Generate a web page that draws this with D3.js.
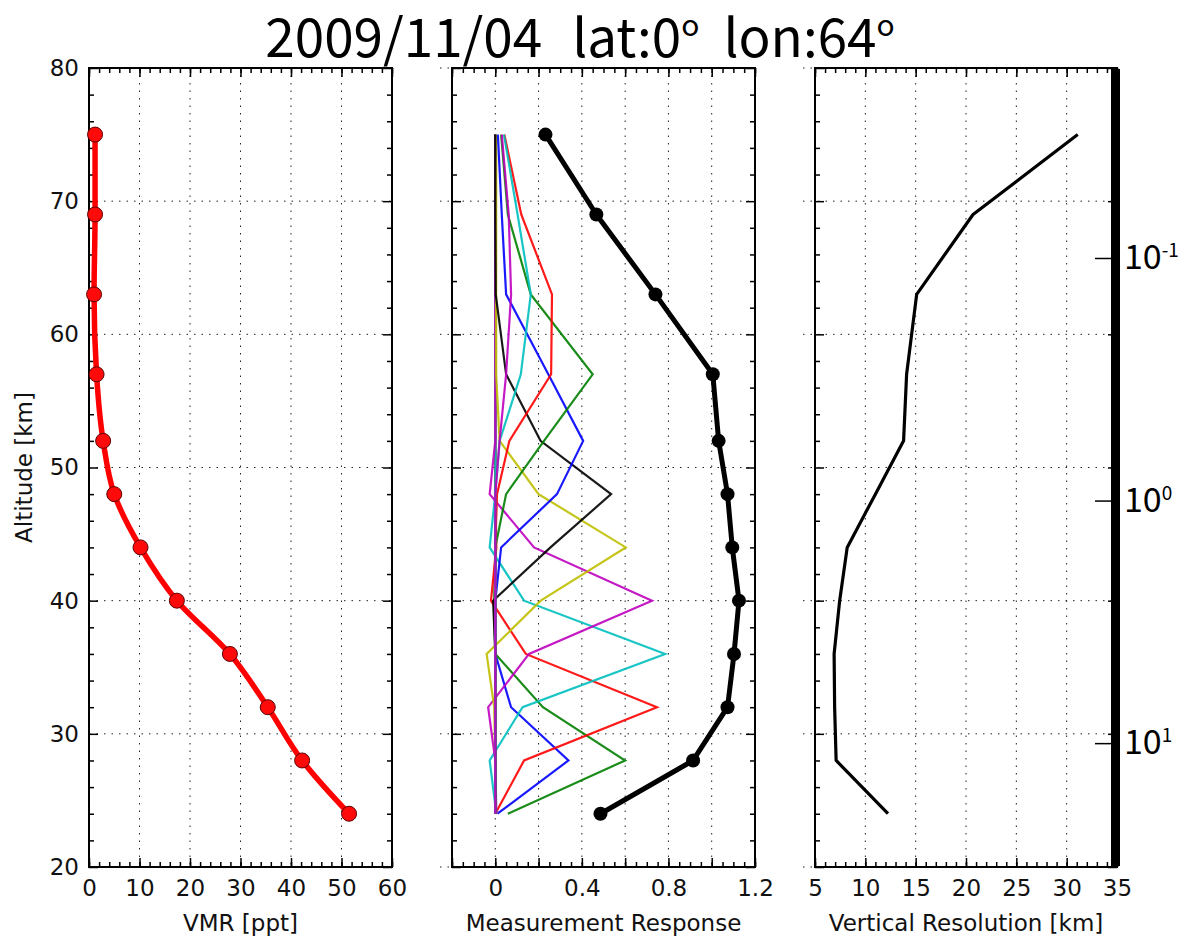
<!DOCTYPE html>
<html>
<head>
<meta charset="utf-8">
<script src="https://cdn.jsdelivr.net/npm/d3@7"></script>
<style>
  body { margin: 0; background: #fff; }
  svg { display: block; }
  .tick text { font-family: "DejaVu Sans", sans-serif; font-size: 23px; fill: #111; }
  .tick line { stroke: #000; stroke-width: 1.5; }
  .grid { stroke: #222; stroke-width: 1; stroke-dasharray: 1.5 6; }
  .axis-title { font-family: "DejaVu Sans", sans-serif; font-size: 23px; fill: #111; }
  .frame { fill: none; stroke: #000; stroke-width: 2; }
  .big { font-family: "Noto Sans CJK JP", "Noto Sans", sans-serif; fill: #000; }
</style>
</head>
<body>
<svg id="chart" width="1191" height="942"></svg>
<script>
// Retrieval levels (km)
const altitudes = [24, 28, 32, 36, 40, 44, 48, 52, 57, 63, 69, 75];
const altitudeRange = [20, 80];
const altitudeMajor = [20, 30, 40, 50, 60, 70, 80];

// Retrieved volume mixing ratio (ppt)
const vmr = [51.5, 42.2, 35.4, 27.9, 17.4, 10.2, 5.0, 2.8, 1.5, 1.0, 1.2, 1.2];
const vmrRange = [0, 60];
const vmrTicks = [0, 10, 20, 30, 40, 50, 60];

// Measurement response (row sums of the averaging kernel)
const measurementResponse = [0.486, 0.914, 1.073, 1.103, 1.126, 1.095, 1.073, 1.032, 1.005, 0.74, 0.467, 0.232];

// Averaging kernel rows, one per retrieval level, sampled at the altitudes above
const kernel24 = [0.01, 0.338, 0.073, 0.0, 0.0, 0.002, 0.0, 0.0, 0.0, 0.0, 0.0, 0.0];
const kernel28 = [0.058, 0.60, 0.22, 0.0, -0.005, 0.0, 0.0, 0.0, 0.0, 0.0, 0.0, 0.0];
const kernel32 = [0.0, 0.133, 0.747, 0.141, -0.02, 0.005, 0.0, 0.0, 0.0, 0.0, 0.0, 0.0];
const kernel36 = [0.005, -0.026, 0.126, 0.785, 0.133, -0.026, 0.0, 0.0, 0.0, 0.0, 0.0, 0.0];
const kernel40 = [0.005, 0.0, -0.033, 0.156, 0.724, 0.179, -0.026, 0.0, 0.0, 0.0, 0.0, 0.0];
const kernel44 = [0.0, 0.0, -0.005, -0.04, 0.21, 0.603, 0.2, 0.02, 0.004, 0.004, 0.004, 0.004];
const kernel48 = [0.0, 0.0, 0.0, 0.0, -0.01, 0.255, 0.535, 0.209, 0.05, 0.002, 0.0, 0.0];
const kernel52 = [0.0, 0.0, 0.0, 0.0, 0.0, 0.027, 0.285, 0.406, 0.245, 0.05, 0.03, 0.012];
const kernel57 = [0.0, 0.0, 0.0, 0.0, 0.0, 0.0, 0.05, 0.225, 0.45, 0.164, 0.058, 0.027];
const kernel63 = [0.0, 0.0, 0.0, 0.0, 0.0, 0.0, 0.008, 0.065, 0.258, 0.262, 0.12, 0.042];
const kernel69 = [0.0, 0.0, 0.0, 0.0, 0.0, 0.0, 0.0, 0.02, 0.118, 0.164, 0.103, 0.04];
const kernel75 = [0.0, 0.0, 0.0, 0.0, 0.0, 0.0, 0.0, 0.02, 0.05, 0.073, 0.062, 0.03];
const kernels = [kernel24, kernel28, kernel32, kernel36, kernel40, kernel44,
                 kernel48, kernel52, kernel57, kernel63, kernel69, kernel75];
const responseRange = [-0.2, 1.2];
const responseTicks = [-0.2, 0, 0.2, 0.4, 0.6, 0.8, 1.0, 1.2];
const responseTickLabels = ["", "0", "", "0.4", "", "0.8", "", "1.2"];

// Vertical resolution (km)
const verticalResolution = [12.25, 7.1, 6.95, 6.9, 7.45, 8.2, 11.0, 13.8, 14.1, 15.1, 20.7, 31.1];
const resolutionRange = [5, 35];
const resolutionTicks = [5, 10, 15, 20, 25, 30, 35];

// Logarithmic side scale
const sideScaleRange = [0.01663, 32.1];
const sideScaleTicks = [0.1, 1, 10];
const sideScaleExponents = ["-1", "0", "1"];

// Title pieces; odd entries are raised degree marks
const titleParts = ["2009/11/04", "lat:0", "o", "lon:64", "o"];

// classic matplotlib colour cycle
const cycle = ["#0000ff", "#008000", "#ff0000", "#00bfbf", "#bf00bf", "#bfbf00", "#000000"];

const svg = d3.select("#chart");
const plotTop = 68, plotBottom = 867;
const y = d3.scaleLinear().domain(altitudeRange).range([plotBottom, plotTop]);
const altMinor = d3.range(altitudeRange[0], altitudeRange[1] + 1, 2).filter(v => v % 10 !== 0);

function step(domain, s) {
  const n = Math.round((domain[1] - domain[0]) / s);
  return d3.range(n + 1).map(i => +(domain[0] + i * s).toFixed(6));
}

function buildPanel(cfg) {
  const g = svg.append("g");
  const x = d3.scaleLinear().domain(cfg.domain).range([cfg.left, cfg.right]);

  // dotted grid
  g.append("g").selectAll("line").data(cfg.gridX).join("line")
    .attr("class", "grid")
    .attr("x1", d => x(d)).attr("x2", d => x(d))
    .attr("y1", plotTop).attr("y2", plotBottom);
  g.append("g").selectAll("line").data(altitudeMajor).join("line")
    .attr("class", "grid")
    .attr("x1", cfg.left - cfg.overhang).attr("x2", cfg.right)
    .attr("y1", d => y(d)).attr("y2", d => y(d));

  // ticks on all four sides, pointing inwards
  const bottomAxis = d3.axisBottom(x).tickValues(cfg.major).tickSize(-9).tickPadding(13)
    .tickFormat((d, i) => cfg.labels[i]);
  g.append("g").attr("transform", `translate(0,${plotBottom})`).call(bottomAxis);
  g.append("g").attr("transform", `translate(0,${plotBottom})`)
    .call(d3.axisBottom(x).tickValues(cfg.minor).tickSize(-5).tickFormat(""));
  g.append("g").attr("transform", `translate(0,${plotTop})`)
    .call(d3.axisTop(x).tickValues(cfg.major).tickSize(-9).tickFormat(""));
  g.append("g").attr("transform", `translate(0,${plotTop})`)
    .call(d3.axisTop(x).tickValues(cfg.minor).tickSize(-5).tickFormat(""));

  const leftAxis = d3.axisLeft(y).tickValues(altitudeMajor).tickSize(-9).tickPadding(10)
    .tickFormat(cfg.yLabels ? d3.format("d") : "");
  g.append("g").attr("transform", `translate(${cfg.left},0)`).call(leftAxis);
  g.append("g").attr("transform", `translate(${cfg.left},0)`)
    .call(d3.axisLeft(y).tickValues(altMinor).tickSize(-5).tickFormat(""));
  g.append("g").attr("transform", `translate(${cfg.right},0)`)
    .call(d3.axisRight(y).tickValues(altitudeMajor).tickSize(-9).tickFormat(""));
  g.append("g").attr("transform", `translate(${cfg.right},0)`)
    .call(d3.axisRight(y).tickValues(altMinor).tickSize(-5).tickFormat(""));
  g.selectAll(".domain").remove();

  g.append("rect").attr("class", "frame")
    .attr("x", cfg.left).attr("y", plotTop)
    .attr("width", cfg.right - cfg.left).attr("height", plotBottom - plotTop);

  g.append("text").attr("class", "axis-title")
    .attr("x", (cfg.left + cfg.right) / 2).attr("y", 931)
    .attr("text-anchor", "middle").text(cfg.title);

  const plot = g.append("g");
  return { x, plot };
}

// ---- VMR profile ----
const p1 = buildPanel({
  left: 89, right: 392, domain: vmrRange,
  major: vmrTicks, labels: vmrTicks.map(String), minor: step(vmrRange, 2),
  gridX: vmrTicks.slice(1, -1), overhang: 0, yLabels: true, title: "VMR [ppt]"
});
p1.plot.append("path")
  .datum(altitudes.map((a, i) => [vmr[i], a]))
  .attr("fill", "none").attr("stroke", "#ff0000").attr("stroke-width", 5.5)
  .attr("stroke-linejoin", "round")
  .attr("d", d3.line().x(d => p1.x(d[0])).y(d => y(d[1])).curve(d3.curveMonotoneY));
p1.plot.selectAll("circle").data(altitudes).join("circle")
  .attr("cx", (a, i) => p1.x(vmr[i])).attr("cy", a => y(a)).attr("r", 7.5)
  .attr("fill", "#ff0a0a").attr("stroke", "#5a0000").attr("stroke-width", 1);

svg.append("text").attr("class", "axis-title")
  .attr("transform", `translate(32,${(plotTop + plotBottom) / 2}) rotate(-90)`)
  .attr("text-anchor", "middle").text("Altitude [km]");

// ---- Averaging kernels & measurement response ----
const p2 = buildPanel({
  left: 452, right: 755, domain: responseRange,
  major: responseTicks, labels: responseTickLabels, minor: step(responseRange, 0.05),
  gridX: responseTicks.slice(1, -1), overhang: 12, yLabels: false, title: "Measurement Response"
});
const kLine = d3.line().x(d => p2.x(d[0])).y(d => y(d[1]));
kernels.forEach((row, k) => {
  p2.plot.append("path")
    .datum(altitudes.map((a, i) => [row[i], a]))
    .attr("fill", "none").attr("stroke", cycle[k % cycle.length])
    .attr("stroke-width", 2.2).attr("stroke-opacity", 0.9)
    .attr("d", kLine);
});
p2.plot.append("path")
  .datum(altitudes.map((a, i) => [measurementResponse[i], a]))
  .attr("fill", "none").attr("stroke", "#000").attr("stroke-width", 5)
  .attr("stroke-linejoin", "round").attr("d", kLine);
p2.plot.selectAll("circle").data(altitudes).join("circle")
  .attr("cx", (a, i) => p2.x(measurementResponse[i])).attr("cy", a => y(a))
  .attr("r", 7).attr("fill", "#000");

// ---- Vertical resolution ----
const p3 = buildPanel({
  left: 815, right: 1117, domain: resolutionRange,
  major: resolutionTicks, labels: resolutionTicks.map(String), minor: step(resolutionRange, 1),
  gridX: resolutionTicks.slice(1, -1), overhang: 12, yLabels: false, title: "Vertical Resolution [km]"
});
p3.plot.append("path")
  .datum(altitudes.map((a, i) => [verticalResolution[i], a]))
  .attr("fill", "none").attr("stroke", "#000").attr("stroke-width", 3.2)
  .attr("stroke-linejoin", "round")
  .attr("d", d3.line().x(d => p3.x(d[0])).y(d => y(d[1])));

// ---- logarithmic side scale ----
const sideY = d3.scaleLog().domain(sideScaleRange).range([69, 866]);
const side = svg.append("g");
side.append("rect").attr("x", 1111).attr("y", sideY.range()[0])
  .attr("width", 9).attr("height", sideY.range()[1] - sideY.range()[0]).attr("fill", "#000");
side.append("g").attr("transform", "translate(1112,0)")
  .call(d3.axisLeft(sideY).tickValues(sideScaleTicks).tickSize(17).tickFormat(""))
  .call(s => s.select(".domain").remove())
  .call(s => s.selectAll(".tick line").attr("stroke-width", 3));
const sideLabels = side.selectAll("text.side").data(sideScaleTicks).join("text")
  .attr("class", "side big")
  .attr("x", 1124).attr("y", d => sideY(d) + 11);
sideLabels.append("tspan").attr("font-size", 34).text("10");
sideLabels.append("tspan").attr("font-size", 19).attr("dy", -12)
  .text((d, i) => sideScaleExponents[i]);

// ---- title ----
const title = svg.append("text").attr("class", "big")
  .attr("x", 580).attr("y", 57).attr("text-anchor", "middle");
titleParts.forEach((t, i) => {
  const sup = t === "o";
  const prevSup = i > 0 && titleParts[i - 1] === "o";
  title.append("tspan")
    .attr("font-size", sup ? 30 : 53)
    .attr("dx", i === 0 || sup ? 0 : (i === 1 ? 30 : 24))
    .attr("dy", sup ? -21 : (prevSup ? 21 : 0))
    .text(t);
});
</script>
</body>
</html>
